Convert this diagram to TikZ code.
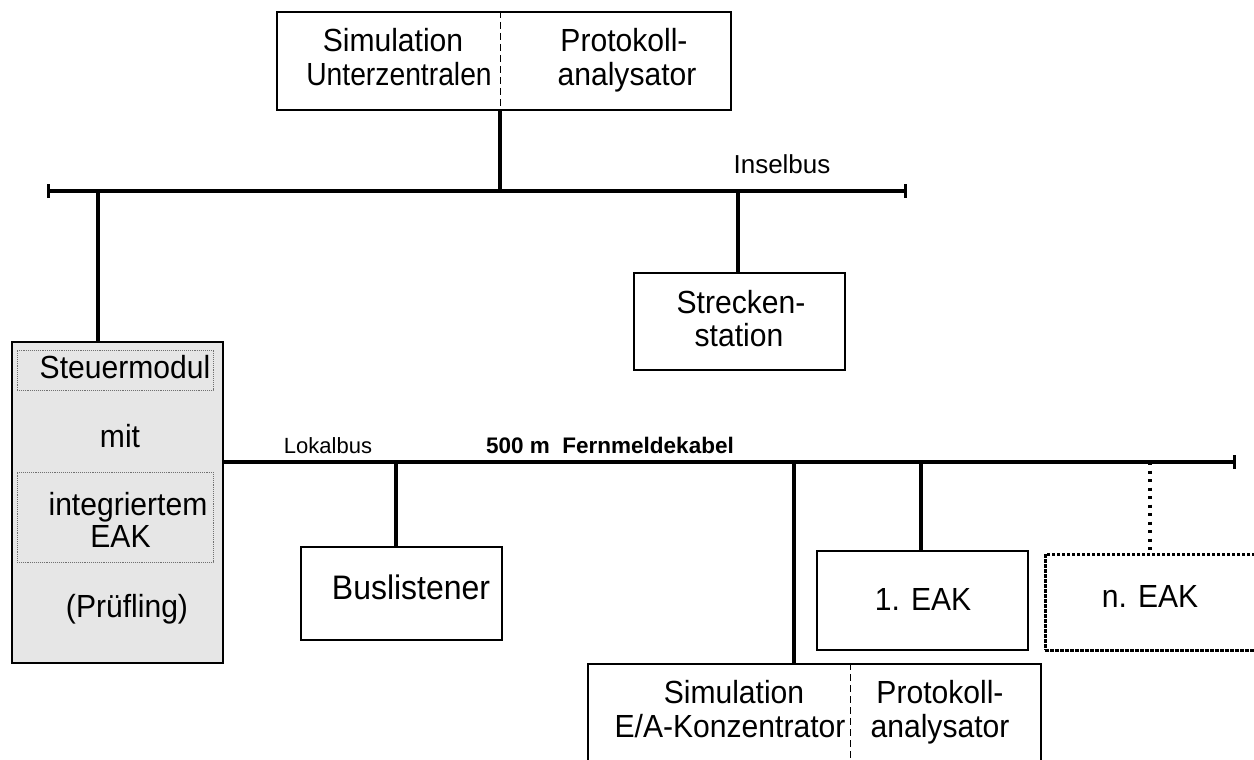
\documentclass[tikz,border=0pt]{standalone}
\usepackage{fontspec}
\setmainfont{Liberation Sans}
\newfontfamily\boxfont{Liberation Sans}[FakeStretch=0.94]
\usetikzlibrary{arrows.meta}
\definecolor{boxgray}{HTML}{E6E6E6}
\definecolor{innergray}{HTML}{707070}
\begin{document}
\begin{tikzpicture}[x=1pt,y=-1pt,
  box/.style={draw=black, line width=2pt, inner sep=0pt, fill=white},
  innerbox/.style={draw=innergray, line width=0.9pt, densely dotted, inner sep=0pt},
  busline/.style={line width=3.3pt, {Bar[width=14pt]}-{Bar[width=14pt]}},
  busopen/.style={line width=3.3pt, -{Bar[width=14pt]}},
  conn/.style={line width=3.1pt},
  dotconn/.style={line width=3.2pt, dash pattern=on 3pt off 5.5pt},
  divider/.style={line width=0.8pt, dash pattern=on 7pt off 4pt},
  lbl/.style={font=\boxfont\fontsize{32}{35}\selectfont, inner sep=0pt, anchor=base},
  biglbl/.style={font=\boxfont\fontsize{34}{37}\selectfont, inner sep=0pt, anchor=base},
  buslbl/.style={font=\fontsize{26}{30}\selectfont, inner sep=0pt, anchor=base},
  smalllbl/.style={font=\fontsize{22}{26}\selectfont, inner sep=0pt, anchor=base},
  boldlbl/.style={font=\fontsize{22.5}{26}\selectfont\bfseries, inner sep=0pt, anchor=base}]
\clip (0,0) rectangle (1254,760);
\useasboundingbox (0,0) rectangle (1254,760);

% bus coordinates
\coordinate (ibL) at (47,191);
\coordinate (ibR) at (907,191);
\coordinate (tj) at (500,191);
\coordinate (j1) at (98,191);
\coordinate (j2) at (738,191);
\coordinate (lbR) at (1236,462);
\coordinate (j3) at (396,462);
\coordinate (j4) at (794,462);
\coordinate (j5) at (921,462);
\coordinate (j6) at (1150,462);

% boxes
\node[box, minimum width=454pt, minimum height=98pt] (top) at (504,61) {};
\node[box, minimum width=211pt, minimum height=97pt] (st) at (739.5,321.5) {};
\node[box, fill=boxgray, line width=2.5pt, minimum width=211pt, minimum height=321pt] (sm) at (117.5,502.5) {};
\node[innerbox, minimum width=196pt, minimum height=40pt] (smi1) at (115,370) {};
\node[innerbox, minimum width=196pt, minimum height=90pt] (smi2) at (115,517) {};
\node[box, minimum width=201pt, minimum height=93pt] (bl) at (401.5,593.5) {};
\node[box, minimum width=211pt, minimum height=99pt] (e1) at (922.5,600.5) {};
\node[box, line width=3pt, dash pattern=on 3.5pt off 1.5pt, minimum width=217pt, minimum height=96pt] (en) at (1153.5,602) {};
\node[box, minimum width=453pt, minimum height=126pt] (ea) at (814.5,727) {};

% dividers
\draw[divider] (top.north -| tj) -- (top.south -| tj);
\draw[divider] (ea.north -| 850,0) -- (ea.south -| 850,0);

% Inselbus
\draw[busline] (ibL) -- (ibR);
\draw[conn] (top.south -| tj) -- (tj);
\draw[conn] (j1) -- (sm.north -| j1);
\draw[conn] (j2) -- (st.north -| j2);

% Lokalbus
\draw[busopen] (sm.east |- lbR) -- (lbR);
\draw[conn] (j3) -- (bl.north -| j3);
\draw[conn] (j4) -- (ea.north -| j4);
\draw[conn] (j5) -- (e1.north -| j5);
\draw[dotconn] (j6) -- (en.north -| j6);

% texts
\node[lbl] (t1a) at (393,52) {Simulation};
\node[lbl] (t1b) at (399,85) {\scalebox{0.94}[1]{Unterzentralen}};
\node[lbl] (t2a) at (624,52) {Protokoll-};
\node[lbl] (t2b) at (627,85) {analysator};
\node[buslbl] (ibl) at (782,173) {Inselbus};
\node[lbl] (t3a) at (741,313) {Strecken-};
\node[lbl] (t3b) at (739,346) {station};
\node[lbl] (t4a) at (125,378) {Steuermodul};
\node[lbl] (t4b) at (120,447) {mit};
\node[lbl] (t4c) at (128,515) {integriertem};
\node[lbl] (t4d) at (120.5,547) {EAK};
\node[lbl] (t4e) at (127,617) {(Prüfling)};
\node[smalllbl] (lbl1) at (328,453) {Lokalbus};
\node[boldlbl] (lbl2) at (610,453) {500 m\ \ Fernmeldekabel};
\node[biglbl] (t5) at (411,599) {Buslistener};
\node[lbl] (t6) at (923,610) {1. EAK};
\node[lbl] (t7) at (1150,607) {n. EAK};
\node[lbl] (t8a) at (734,703) {Simulation};
\node[lbl] (t8b) at (730,737) {E/A-Konzentrator};
\node[lbl] (t9a) at (940,703) {Protokoll-};
\node[lbl] (t9b) at (940,737) {analysator};
\end{tikzpicture}
\end{document}
